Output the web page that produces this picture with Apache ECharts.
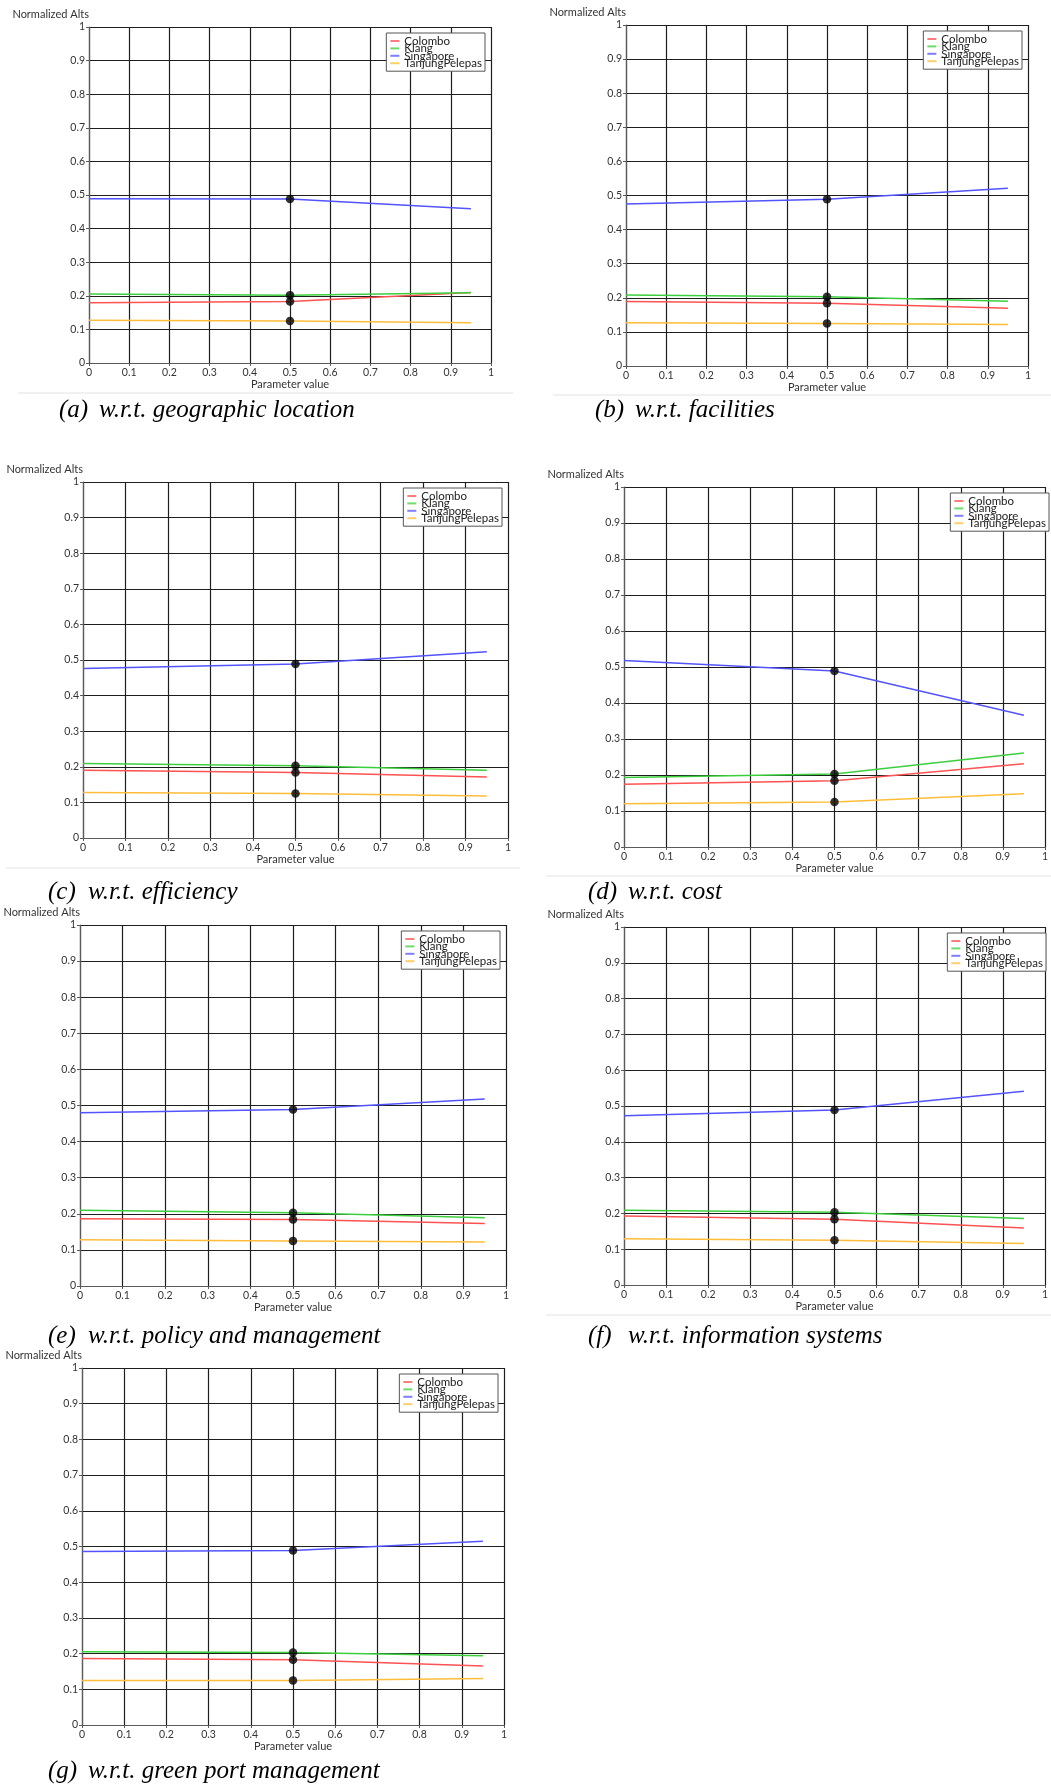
<!DOCTYPE html>
<html>
<head>
<meta charset="utf-8">
<title>Normalized Alts sensitivity</title>
<script src="https://cdn.jsdelivr.net/npm/echarts@6/dist/echarts.min.js"></script>
<style>
  html, body { margin: 0; padding: 0; background: #fff; }
  #chart { width: 1051px; height: 1785px; }
</style>
</head>
<body>
<div id="chart"></div>
<script>
// parameter values the weights were read at
const paramX = [0, 0.5, 0.95];
const currentParam = 0.5;
const ports = ["Colombo", "Klang", "Singapore", "TanjungPelepas"];
const portColors = ["#ff5252", "#3ccf3c", "#5353ff", "#ffbd3a"];

// one row per panel (a)..(g), values at paramX
const colomboVals = [
  [0.179, 0.183, 0.210],
  [0.189, 0.184, 0.169],
  [0.190, 0.184, 0.171],
  [0.174, 0.184, 0.231],
  [0.186, 0.184, 0.173],
  [0.193, 0.184, 0.159],
  [0.186, 0.183, 0.165],
];
const klangVals = [
  [0.205, 0.202, 0.209],
  [0.208, 0.203, 0.190],
  [0.209, 0.203, 0.190],
  [0.193, 0.203, 0.261],
  [0.210, 0.203, 0.189],
  [0.209, 0.203, 0.186],
  [0.205, 0.203, 0.194],
];
const singaporeVals = [
  [0.489, 0.488, 0.459],
  [0.475, 0.489, 0.521],
  [0.476, 0.489, 0.523],
  [0.518, 0.489, 0.366],
  [0.480, 0.489, 0.518],
  [0.473, 0.489, 0.541],
  [0.486, 0.489, 0.515],
];
const tanjungVals = [
  [0.127, 0.125, 0.120],
  [0.127, 0.125, 0.122],
  [0.128, 0.125, 0.118],
  [0.120, 0.125, 0.148],
  [0.128, 0.125, 0.122],
  [0.129, 0.125, 0.116],
  [0.125, 0.125, 0.130],
];
const panelTags = ["(a)", "(b)", "(c)", "(d)", "(e)", "(f)", "(g)"];
const panelCaptions = [
  "w.r.t. geographic location",
  "w.r.t. facilities",
  "w.r.t. efficiency",
  "w.r.t. cost",
  "w.r.t. policy and management",
  "w.r.t. information systems",
  "w.r.t. green port management",
];

// layout: plot left, top, width, height
const plotBoxes = [
  [89, 27, 402, 336],
  [626, 25, 402, 341],
  [83, 482, 425, 356],
  [624, 487, 431, 360],
  [80, 925, 426, 361],
  [624, 927, 428, 358],
  [82, 1368, 422, 357],
];
const captionPos = [[59, 410], [595, 410], [48, 892], [588, 892], [48, 1336], [588, 1336], [48, 1771]];
const separators = [[18, 513, 393], [553, 1051, 395], [6, 520, 868], [546, 1051, 876], [546, 1051, 1315]];

const W = 1051;
const uiFont = "Lato";
const capFont = 'italic 25px "Liberation Serif"';
const allVals = [colomboVals, klangVals, singaporeVals, tanjungVals];

const grids = [], xAxes = [], yAxes = [], legends = [], series = [], graphics = [];

plotBoxes.forEach((b, i) => {
  grids.push({ left: b[0], top: b[1], width: b[2], height: b[3] });
  const axisCommon = {
    gridIndex: i,
    type: "value",
    min: 0,
    max: 1,
    interval: 0.1,
    axisLine: { onZero: false, lineStyle: { color: "#5a5a5a", width: 1.2 } },
    axisTick: { show: true, length: 3, lineStyle: { color: "#5a5a5a" } },
    axisLabel: { fontSize: 10.5, color: "#333", margin: 4, fontFamily: uiFont },
    splitLine: { show: true, lineStyle: { color: "#1e1e1e", width: 1.2 } },
    nameTextStyle: { fontSize: 11, color: "#333", fontFamily: uiFont },
  };
  xAxes.push(Object.assign({}, axisCommon, {
    name: "Parameter value",
    nameLocation: "middle",
    nameGap: 16,
  }));
  yAxes.push(Object.assign({}, axisCommon, {
    name: "Normalized Alts",
    nameLocation: "end",
    nameGap: 13,
    nameTextStyle: { fontSize: 11, color: "#333", fontFamily: uiFont, align: "right", verticalAlign: "middle" },
  }));
  // squashed legend, entries overlap as in the original tool
  legends.push({
    data: ports,
    orient: "vertical",
    top: b[1] + 6,
    right: W - (b[0] + b[2]) + 6,
    backgroundColor: "#fff",
    borderColor: "#555",
    borderWidth: 1,
    padding: [2, 3, 2, 4],
    itemGap: -4.6,
    itemWidth: 9,
    itemHeight: 2,
    icon: "rect",
    itemStyle: { opacity: 0.75 },
    textStyle: { fontSize: 11.5, color: "#222", fontFamily: uiFont },
    selectedMode: false,
  });

  ports.forEach((p, k) => {
    const vals = allVals[k][i];
    series.push({
      name: p,
      type: "line",
      xAxisIndex: i,
      yAxisIndex: i,
      showSymbol: false,
      color: portColors[k],
      lineStyle: { width: 1.5, color: portColors[k] },
      data: paramX.map((x, j) => [x, vals[j]]),
      z: 3,
    });
  });
  // current parameter markers
  series.push({
    type: "scatter",
    xAxisIndex: i,
    yAxisIndex: i,
    symbolSize: 8.5,
    itemStyle: { color: "#000" },
    data: allVals.map((v) => [currentParam, v[i][paramX.indexOf(currentParam)]]),
    z: 5,
  });

  const c = captionPos[i];
  graphics.push({
    type: "text", x: c[0], y: c[1],
    style: { text: panelTags[i], font: capFont, fill: "#000", verticalAlign: "middle" },
  });
  graphics.push({
    type: "text", x: c[0] + 40, y: c[1],
    style: { text: panelCaptions[i], font: capFont, fill: "#000", verticalAlign: "middle" },
  });
});

separators.forEach((s) => {
  graphics.push({
    type: "line",
    shape: { x1: s[0], y1: s[2], x2: s[1], y2: s[2] },
    style: { stroke: "#e2e2e2", lineWidth: 1 },
  });
});

const chart = echarts.init(document.getElementById("chart"));
chart.setOption({
  animation: false,
  backgroundColor: "#fff",
  grid: grids,
  xAxis: xAxes,
  yAxis: yAxes,
  legend: legends,
  series: series,
  graphic: graphics,
});
</script>
</body>
</html>
